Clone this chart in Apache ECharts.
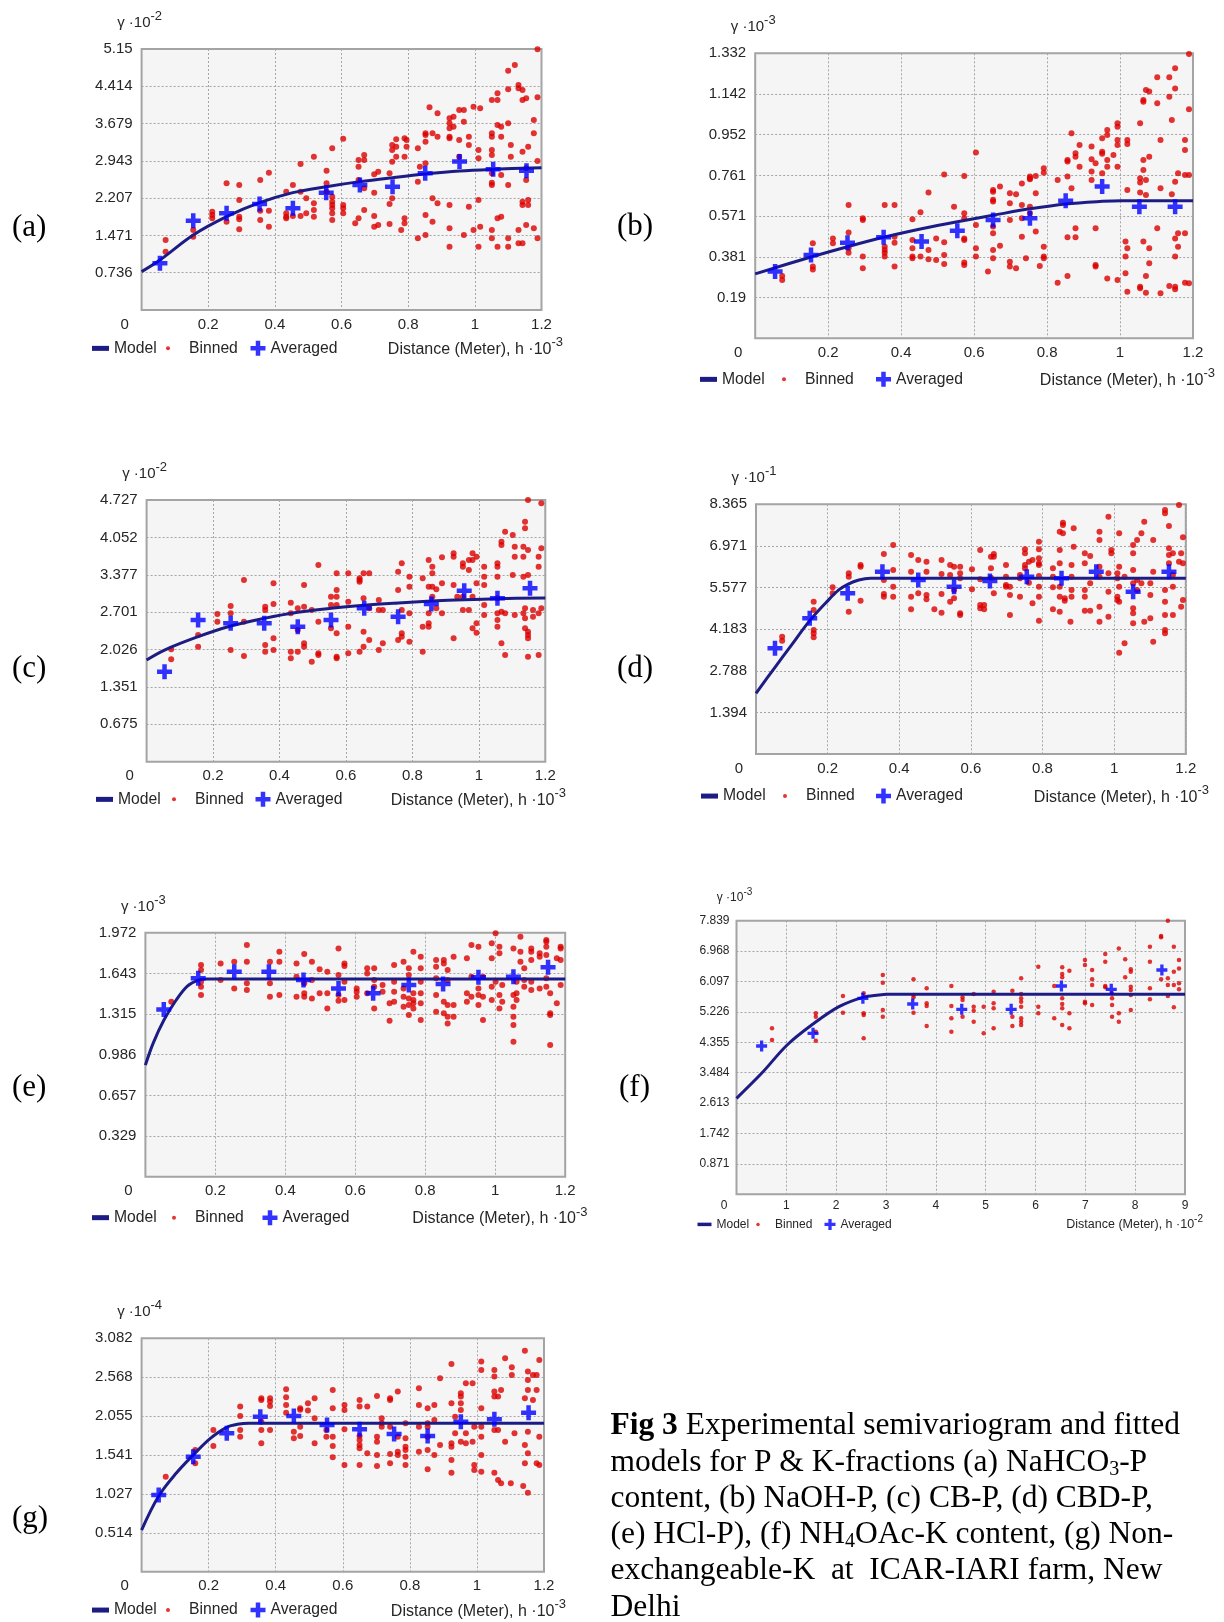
<!DOCTYPE html>
<html><head><meta charset="utf-8">
<script src="https://cdn.jsdelivr.net/npm/echarts@6/dist/echarts.min.js"></script>
<style>html,body{margin:0;padding:0;background:#fff;}#c{width:1224px;height:1622px;}</style>
</head><body><div id="c"></div>
<script>
// ---------- tick labels ----------
const xLabelsH = ['0','0.2','0.4','0.6','0.8','1','1.2'];
const xLabelsF = ['0','1','2','3','4','5','6','7','8','9'];
const yLabelsA = ['0.736','1.471','2.207','2.943','3.679','4.414','5.15'];
const yLabelsB = ['0.19','0.381','0.571','0.761','0.952','1.142','1.332'];
const yLabelsC = ['0.675','1.351','2.026','2.701','3.377','4.052','4.727'];
const yLabelsD = ['1.394','2.788','4.183','5.577','6.971','8.365'];
const yLabelsE = ['0.329','0.657','0.986','1.315','1.643','1.972'];
const yLabelsF = ['0.871','1.742','2.613','3.484','4.355','5.226','6.097','6.968','7.839'];
const yLabelsG = ['0.514','1.027','1.541','2.055','2.568','3.082'];

// ---------- model curves [h, gamma] ----------
const modelA = [[0,0.757],[0.055,0.987],[0.155,1.480],[0.255,1.842],[0.354,2.118],[0.454,2.316],[0.554,2.434],[0.655,2.533],[0.753,2.612],[0.851,2.684],[0.954,2.743],[1.055,2.776],[1.2,2.809]];
const modelB = [[0,0.301],[0.153,0.380],[0.253,0.428],[0.352,0.472],[0.456,0.512],[0.554,0.545],[0.652,0.575],[0.753,0.605],[0.851,0.628],[0.951,0.640],[1.004,0.643],[1.2,0.643]];
const modelC = [[0,1.837],[0.054,2.017],[0.155,2.258],[0.253,2.451],[0.354,2.589],[0.455,2.698],[0.555,2.770],[0.655,2.824],[0.757,2.866],[0.857,2.902],[0.956,2.927],[1.056,2.945],[1.2,2.957]];
const modelD = [[0,2.033],[0.053,2.904],[0.098,3.630],[0.150,4.467],[0.198,5.104],[0.231,5.495],[0.256,5.685],[0.287,5.830],[0.320,5.886],[1.2,5.886]];
const modelE = [[0,0.902],[0.022,1.078],[0.053,1.266],[0.088,1.428],[0.120,1.541],[0.151,1.589],[0.175,1.597],[1.2,1.597]];
const modelF = [[0,2.750],[0.504,3.466],[1.016,4.278],[1.536,4.879],[2.056,5.376],[2.536,5.643],[2.856,5.710],[3.016,5.729],[9,5.729]];
const modelG = [[0,0.550],[0.051,0.999],[0.103,1.299],[0.154,1.541],[0.205,1.761],[0.254,1.907],[0.291,1.950],[0.32,1.959],[1.2,1.959]];

// ---------- averaged points ----------
const avgA = [[0.055,0.921],[0.155,1.763],[0.255,1.908],[0.354,2.092],[0.454,2.007],[0.554,2.316],[0.655,2.467],[0.753,2.434],[0.851,2.697],[0.954,2.928],[1.055,2.776],[1.155,2.750]];
const avgB = [[0.0545,0.312],[0.153,0.389],[0.253,0.447],[0.352,0.472],[0.456,0.452],[0.554,0.503],[0.652,0.553],[0.753,0.561],[0.851,0.643],[0.951,0.709],[1.053,0.615],[1.151,0.615]];
const avgC = [[0.054,1.626],[0.155,2.559],[0.253,2.499],[0.354,2.499],[0.455,2.439],[0.555,2.559],[0.655,2.770],[0.757,2.619],[0.857,2.848],[0.956,3.089],[1.056,2.951],[1.154,3.131]];
const avgD = [[0.053,3.540],[0.150,4.545],[0.256,5.383],[0.353,6.109],[0.453,5.830],[0.553,5.606],[0.653,5.796],[0.756,5.941],[0.853,5.886],[0.950,6.109],[1.053,5.439],[1.153,6.109]];
const avgE = [[0.0525,1.352],[0.151,1.603],[0.254,1.657],[0.353,1.657],[0.452,1.589],[0.552,1.522],[0.651,1.482],[0.753,1.549],[0.851,1.557],[0.952,1.611],[1.052,1.616],[1.151,1.692]];
const avgF = [[0.504,4.249],[1.536,4.612],[2.536,5.614],[3.536,5.452],[4.52,5.299],[5.512,5.299],[6.52,5.968],[7.52,5.872],[8.536,6.426]];
const avgG = [[0.051,1.013],[0.154,1.519],[0.254,1.827],[0.354,2.047],[0.454,2.056],[0.553,1.937],[0.650,1.880],[0.753,1.818],[0.853,1.792],[0.952,1.981],[1.052,2.012],[1.154,2.100]];

// ---------- binned points, grouped by lag: [h, [gamma...]] ----------
const binnedA = [
[0.072,[1.381,1.151]],[0.155,[1.578,1.447]],[0.212,[1.940,1.874,1.809]],[0.255,[2.499,1.743]],
[0.293,[2.466,2.170,1.842,1.789,1.592]],[0.356,[2.565,1.960,1.776]],[0.382,[2.710,1.960,1.644]],
[0.434,[2.335,1.907,1.842,1.809]],[0.454,[2.466,1.855]],[0.477,[2.881,2.335,1.855]],[0.494,[2.203,1.907]],
[0.517,[3.025,2.105,1.973,1.842]],[0.555,[2.749,2.499,2.335]],[0.572,[3.190,2.236,2.138,2.072,2.006,1.907,1.776]],
[0.605,[3.381,2.072,2.006,1.907]],[0.641,[1.710]],[0.651,[2.960,2.828,2.565,1.809]],[0.668,[3.058,2.960,2.401,1.973]],
[0.698,[2.677,2.315,1.855,1.644]],[0.710,[2.729,1.677]],[0.744,[2.697,2.091,1.697]],[0.752,[3.256,3.157,2.927,2.203]],
[0.764,[3.367,3.223,3.025]],[0.779,[1.578]],[0.789,[3.387,3.025,1.809,1.710]],[0.795,[3.223,3.354]],
[0.829,[3.190,2.532,1.414]],[0.835,[2.828]],[0.852,[3.486,3.453,3.321,2.894,1.874,1.480]],[0.864,[3.999]],
[0.873,[3.486,2.203,1.743]],[0.888,[3.880,3.420,2.105]],[0.924,[3.782,3.683,3.584,3.420,3.387,2.072,1.611,1.250]],
[0.936,[3.815,3.617]],[0.953,[3.946,3.354,3.025]],[0.967,[3.946,3.716,1.480]],[0.982,[3.420,3.256,2.039]],
[0.996,[4.012,1.578]],[1.011,[3.157,2.993,2.170,1.250]],[1.016,[3.979,1.644]],
[1.051,[4.144,3.486,3.420,3.157,3.058,2.697,2.512,2.466,1.578,1.414]],[1.068,[4.275,4.144,3.650,1.809,1.250]],
[1.079,[3.617,3.420,2.664,1.842]],[1.100,[4.722,4.354,3.683,2.466,1.414,1.250]],[1.108,[3.256,3.025]],
[1.120,[4.834]],[1.131,[4.440,4.374,1.578,1.315]],[1.143,[4.341,4.144,3.124,2.138,2.072,1.315]],
[1.154,[4.176,2.795,2.565,1.677]],[1.160,[3.223,2.170,2.072]],[1.177,[3.749,3.486,1.611]],[1.188,[5.143,4.196,2.940,1.414]]
];
const binnedB = [
[0.074,[0.291,0.273]],[0.158,[0.444,0.335,0.322]],[0.213,[0.467,0.444]],[0.256,[0.623,0.494,0.421,0.400]],
[0.295,[0.561,0.553,0.382,0.327]],[0.355,[0.623,0.428,0.413,0.400,0.382]],[0.382,[0.623,0.475,0.447,0.335]],
[0.431,[0.556,0.460,0.421,0.382,0.374]],[0.453,[0.589,0.382]],[0.475,[0.681,0.413,0.369]],[0.496,[0.467,0.366]],
[0.518,[0.766,0.449,0.389,0.347]],[0.545,[0.615]],[0.573,[0.759,0.584,0.561,0.467,0.460,0.354,0.343]],
[0.605,[0.868,0.530,0.421,0.382]],[0.638,[0.312]],[0.652,[0.693,0.685,0.647,0.639,0.522,0.491,0.413,0.374]],
[0.671,[0.709,0.433]],[0.698,[0.678,0.631,0.553,0.358,0.335]],[0.715,[0.673,0.327]],[0.731,[0.724,0.623,0.561,0.475]],
[0.742,[0.374]],[0.753,[0.756,0.748,0.743,0.615,0.584]],[0.769,[0.759,0.678,0.499]],[0.780,[0.338]],
[0.791,[0.795,0.774,0.428,0.382,0.374]],[0.829,[0.740,0.260]],[0.856,[0.833,0.826,0.756,0.472,0.291]],
[0.867,[0.958,0.701]],[0.878,[0.865,0.849,0.514,0.472]],[0.889,[0.904,0.802]],[0.922,[0.896,0.837,0.779,0.740]],
[0.933,[0.818,0.514,0.343,0.335]],[0.951,[0.935,0.872,0.862,0.771]],[0.965,[0.974,0.950,0.833,0.802,0.280]],
[0.982,[0.857]],[0.993,[1.005,0.989,0.927,0.904,0.802,0.273]],[1.015,[0.452,0.382,0.304]],
[1.020,[0.927,0.908,0.693,0.421,0.218]],[1.055,[1.005,0.748,0.728,0.681,0.241,0.234]],
[1.064,[1.114,1.106,0.833,0.787,0.452]],[1.071,[1.161,0.740,0.670,0.291,0.213]],[1.080,[1.153,0.849,0.421,0.351]],
[1.102,[1.220,1.098,0.514]],[1.111,[0.927,0.701,0.210]],[1.135,[1.220,1.129,0.245]],[1.142,[1.020,0.673]],
[1.151,[1.262,1.168,0.732,0.467,0.382,0.241,0.229]],[1.159,[0.771,0.491,0.428]],
[1.178,[0.927,0.880,0.763,0.491,0.260]],[1.189,[1.329,1.070,0.763,0.257]]
];
const binnedC = [
[0.074,[2.029,1.849]],[0.155,[2.288,2.077]],[0.213,[2.668,2.529]],[0.253,[2.812,2.680,2.017]],
[0.293,[3.282,2.529,1.909]],[0.357,[2.800,2.740,2.108,1.987]],[0.382,[3.222,2.848,2.228,2.017]],
[0.434,[2.872,2.680,1.987,1.867]],[0.455,[2.770,2.379,1.987]],[0.474,[3.191,2.800,2.138,2.077]],
[0.497,[2.740,1.807]],[0.517,[3.553,2.529,1.957,1.927]],[0.555,[2.981,2.830,2.409]],
[0.572,[3.402,3.101,2.981,2.830,2.318,1.897,1.867]],[0.607,[3.402,2.890,2.439,1.957]],
[0.641,[3.312,3.282,3.252,1.987]],[0.653,[3.402,2.951,2.348,2.077]],[0.670,[3.402,2.770,2.198]],
[0.699,[2.921,2.740,2.017]],[0.711,[2.138,2.740]],[0.757,[3.432,3.101,2.198]],[0.768,[3.583,2.740,2.318,2.258]],
[0.791,[3.342,3.161,2.680,2.168]],[0.831,[3.312,2.439,1.987]],[0.849,[3.643,3.161,2.680,2.499,2.439]],
[0.860,[3.523,3.402,3.161,2.981]],[0.872,[3.113,2.770]],[0.889,[3.691,3.222,2.680]],
[0.924,[3.764,3.703,3.191,2.228]],[0.935,[2.981]],[0.952,[3.583,3.523,2.981,2.740]],[0.970,[3.643,3.462,2.740]],
[0.981,[3.643,3.764,2.981,2.409]],[0.993,[3.703,3.222,2.499,2.330]],[1.016,[3.523,3.342,3.191,2.830,2.650]],
[1.056,[3.583,3.523,3.342,2.951,2.680,2.559,2.439]],[1.068,[3.974,3.914,2.710,2.138]],[1.079,[4.155,2.680,1.927]],
[1.102,[4.095,3.372]],[1.108,[3.884,3.703,2.650]],[1.134,[3.884,3.703,3.342,2.680]],
[1.139,[4.336,4.215,2.770,2.589,2.409]],[1.148,[4.727,3.824,3.372,2.348,2.288,2.228,1.897]],
[1.163,[2.740,2.619]],[1.180,[3.703,3.523,2.680,1.927]],[1.188,[4.667,3.854,2.770]]
];
const binnedD = [
[0.073,[3.931,3.797]],[0.161,[5.104,4.825,4.154,4.043,3.909]],[0.214,[5.584,5.383]],[0.259,[6.053,5.941,4.769]],
[0.292,[6.332,6.276,5.137]],[0.357,[6.701,5.830,5.361,5.271]],[0.383,[7.002,6.165,5.606,5.271]],
[0.433,[6.667,6.109,5.271,4.847]],[0.453,[6.500,5.383]],[0.476,[6.444,6.109,5.327,5.182]],[0.498,[4.847]],
[0.518,[6.500,6.031,5.361,4.735]],[0.542,[6.332,5.997,5.104]],[0.553,[6.276,5.495,5.215]],
[0.570,[6.276,6.053,5.886,4.713,4.657]],[0.603,[6.187,5.517]],[0.626,[6.835,5.852,4.992,4.880]],
[0.637,[4.992,4.847]],[0.656,[6.611,6.221,5.908]],[0.664,[6.701,6.611,5.383]],[0.698,[6.332,5.941,5.662,5.606]],
[0.709,[5.606,5.327,4.657]],[0.737,[5.997,5.886,5.271]],[0.751,[6.857,6.723,6.332,6.221]],[0.762,[6.444,5.740]],
[0.772,[6.500,5.048]],[0.790,[7.114,6.857,6.556,6.388,6.332,5.964,5.606,5.271,4.467]],
[0.829,[6.221,5.941,5.584,4.847]],[0.848,[7.449,6.835,6.388,5.606,5.271,4.769]],[0.857,[7.751,7.672,7.393]],
[0.862,[5.215,5.137]],[0.878,[4.434]],[0.881,[6.332,5.941,5.495,5.271]],[0.887,[7.561,6.947]],
[0.918,[6.723,6.388,5.495,5.271,4.802]],[0.933,[6.634,5.718,4.802]],[0.959,[7.449,7.170,6.276,5.941,4.936,4.434]],
[0.984,[7.952,6.053,5.439,4.601]],[0.992,[6.835,6.723]],[1.009,[6.053,5.886,5.271,5.160]],
[1.014,[7.393,6.276,5.606,5.104,3.395]],[1.029,[3.708,5.941]],[1.053,[7.002,6.723,6.165,5.718,4.880,4.713,4.378]],
[1.064,[7.170,5.495,5.830]],[1.076,[7.393,5.718]],[1.084,[7.784,4.434]],[1.101,[5.718,5.327,4.545]],
[1.109,[7.170,6.109,3.764]],[1.142,[8.175,8.063,5.495,5.104,4.657,4.154,4.043]],[1.153,[7.639,6.891,6.667,6.388]],
[1.164,[6.723,5.997,4.657,5.606]],[1.181,[8.343,6.444]],[1.187,[6.723,4.936]],[1.192,[7.259,6.388,5.160]]
];
const binnedE = [
[0.074,[1.414]],[0.159,[1.711,1.670,1.576,1.536,1.468]],[0.215,[1.724,1.589]],[0.254,[1.738,1.522]],
[0.290,[1.872,1.738,1.563,1.509]],[0.356,[1.738,1.563,1.455]],[0.383,[1.818,1.738,1.468]],
[0.432,[1.724,1.616,1.455]],[0.454,[1.800,1.563,1.482,1.455]],[0.476,[1.738,1.589,1.441]],[0.498,[1.676,1.482]],
[0.520,[1.657,1.482,1.360]],[0.552,[1.845,1.630,1.468,1.422]],[0.569,[1.724,1.703,1.576,1.428]],
[0.604,[1.522,1.495,1.455]],[0.634,[1.684,1.643,1.482]],[0.654,[1.684,1.589,1.536,1.360]],[0.678,[1.549,1.495]],
[0.698,[1.401,1.261]],[0.711,[1.711,1.576,1.495,1.414]],[0.738,[1.738,1.522,1.455,1.374]],
[0.753,[1.684,1.630,1.441,1.387,1.307]],[0.766,[1.818,1.482,1.428,1.401,1.360]],
[0.787,[1.778,1.684,1.576,1.482,1.401,1.266]],[0.831,[1.751,1.697,1.603,1.468,1.334]],
[0.853,[1.751,1.724,1.414,1.320]],[0.864,[1.670,1.589,1.387,1.293,1.239]],[0.881,[1.778,1.387,1.293]],
[0.919,[1.765,1.482,1.414]],[0.932,[1.872,1.616,1.455]],[0.952,[1.859,1.522,1.468,1.387]],
[0.965,[1.616,1.455,1.266]],[0.990,[1.886,1.765,1.536,1.428]],[1.001,[1.967,1.576]],
[1.012,[1.859,1.805,1.468,1.360]],[1.020,[1.549,1.414]],[1.052,[1.845,1.468,1.374,1.293,1.226,1.091]],
[1.061,[1.576,1.482,1.428]],[1.072,[1.940,1.818,1.738]],[1.083,[1.684,1.589,1.536]],
[1.103,[1.845,1.818,1.751,1.576,1.509]],[1.127,[1.805,1.778,1.522]],[1.146,[1.913,1.899,1.859,1.792,1.603,1.536]],
[1.157,[1.482,1.320,1.307,1.064]],[1.176,[1.765,1.401]],[1.187,[1.859,1.845,1.751,1.549]]
];
const binnedF = [
[0.712,[4.755,4.421]],[1.592,[5.185,5.089,4.659,4.402]],[2.136,[5.681,5.204]],[2.552,[5.757,5.185,5.137,4.468]],
[2.936,[6.283,6.063,5.280,5.089]],[3.552,[6.158,5.710,5.643,5.204]],[3.816,[5.901,5.471,5.395,4.822]],
[4.312,[5.968,5.395,5.041,4.659]],[4.536,[5.643,5.567,5.089]],[4.76,[5.738,5.376,5.261,4.946]],
[4.96,[5.376,4.612]],[5.16,[5.805,5.471,5.328,4.755]],[5.536,[5.834,5.089,4.822]],
[5.712,[6.187,5.738,5.614,5.519,5.376,5.041,4.946,4.850]],[6.056,[6.521,5.376,5.185]],[6.376,[5.968,5.041]],
[6.536,[6.502,6.311,6.216,5.614,5.452,5.328,4.850]],[6.68,[6.407,5.185,4.755]],[6.992,[6.712,6.569,5.519,5.471]],
[7.136,[6.426,6.158,5.996,5.423]],[7.4,[6.884,6.664,5.968,5.929]],[7.536,[5.757,5.614,5.423,5.089]],
[7.672,[7.046,5.185,4.946]],[7.8,[6.731,6.216]],[7.912,[6.445,6.378,5.948,5.853,5.710,5.280]],
[8.296,[7.094,6.664,5.901,5.586]],[8.52,[7.400,7.362,6.158]],[8.656,[7.839,6.187,5.996,5.681]],
[8.776,[7.094,6.378,5.996,5.356]],[8.88,[6.712,6.473,6.044,5.872]]
];
const binnedG = [
[0.072,[1.255]],[0.160,[1.607,1.431]],[0.214,[1.871,1.660]],[0.294,[2.180,2.056,1.871,1.783]],
[0.357,[2.290,2.268,1.981,1.871,1.695]],[0.383,[2.290,2.246,2.188,1.871]],[0.431,[2.408,2.303,2.202,2.100]],
[0.454,[1.849,1.761]],[0.473,[2.157,2.140,1.915,1.792]],[0.496,[2.224,2.127]],[0.516,[2.290,2.025,1.695]],
[0.551,[1.871,1.783]],[0.570,[2.400,2.157,1.783,1.660,1.510]],[0.605,[2.202,2.135,1.880,1.409]],
[0.650,[2.268,2.180,1.792,1.739,1.673,1.629,1.409]],[0.673,[2.180,1.563]],[0.702,[2.320,1.783,1.717,1.541,1.396]],
[0.716,[2.025,1.959,1.915]],[0.741,[2.290,2.268,1.915,1.554,1.431]],[0.764,[2.378,1.783,1.585,1.541]],
[0.787,[1.959,1.761,1.651,1.607,1.519,1.409]],[0.827,[2.422,2.202,1.915,1.585]],
[0.853,[2.157,1.959,1.915,1.783,1.607,1.352]],[0.873,[2.202,2.003,1.541]],[0.890,[2.554,1.673]],
[0.924,[2.743,2.224,1.695,1.651,1.475,1.308]],[0.935,[2.047,1.827]],[0.952,[2.356,2.312,2.224,2.135,1.717]],
[0.967,[2.488,1.827,1.695]],[0.987,[2.488,1.717]],[0.992,[1.915,1.409,1.343]],
[1.013,[2.774,2.664,2.157,1.915,1.783,1.541,1.321]],[1.052,[2.664,2.576,2.378,2.312,1.871,1.308]],
[1.063,[2.312,1.871,1.211]],[1.072,[2.400,1.167]],[1.084,[2.818,1.717]],[1.101,[1.167]],[1.104,[2.699,2.598]],
[1.112,[1.827]],[1.138,[1.132]],[1.143,[2.919,2.290,1.673,1.431]],[1.152,[2.642,2.532,2.400,1.849,1.563,1.044]],
[1.167,[2.598,2.268]],[1.178,[2.598,2.400,1.431]],[1.186,[2.796,1.783,1.409]]
];

const charts = [
  {binned: binnedA, avg: avgA, model: modelA, yLabels: yLabelsA, xLabels: xLabelsH, yExp: '-2', xExp: '-3', tag: '(a)'},
  {binned: binnedB, avg: avgB, model: modelB, yLabels: yLabelsB, xLabels: xLabelsH, yExp: '-3', xExp: '-3', tag: '(b)'},
  {binned: binnedC, avg: avgC, model: modelC, yLabels: yLabelsC, xLabels: xLabelsH, yExp: '-2', xExp: '-3', tag: '(c)'},
  {binned: binnedD, avg: avgD, model: modelD, yLabels: yLabelsD, xLabels: xLabelsH, yExp: '-1', xExp: '-3', tag: '(d)'},
  {binned: binnedE, avg: avgE, model: modelE, yLabels: yLabelsE, xLabels: xLabelsH, yExp: '-3', xExp: '-3', tag: '(e)'},
  {binned: binnedF, avg: avgF, model: modelF, yLabels: yLabelsF, xLabels: xLabelsF, yExp: '-3', xExp: '-2', tag: '(f)'},
  {binned: binnedG, avg: avgG, model: modelG, yLabels: yLabelsG, xLabels: xLabelsH, yExp: '-4', xExp: '-3', tag: '(g)'}
];

// ---------- layout (pixels) ----------
const big = {font: 15, legFont: 15.7, nameFont: 16, xMargin: 7, yMargin: 9, zeroShift: 17, dot: 6, cross: 15, yNameGap: 26,
  modelIcon: [17, 5], dotIcon: 4, dotTextGap: 21};
const small = {font: 12, legFont: 12, nameFont: 12.5, xMargin: 5, yMargin: 7, zeroShift: 12.5, dot: 4.5, cross: 11, yNameGap: 23,
  modelIcon: [14, 3.5], dotIcon: 3.5, dotTextGap: 17};
const layouts = [
  Object.assign({grid: [141.6, 49, 541.5, 310], tag: [12, 229], legY: 349, legX: [92, 168, 250.5], nameEnd: 563}, big),
  Object.assign({grid: [755.2, 53.3, 1193, 338.3], tag: [617, 228], legY: 380, legX: [700, 784, 876], nameEnd: 1215}, big),
  Object.assign({grid: [146.6, 500, 545.3, 761.7], tag: [12, 670], legY: 800, legX: [96, 174, 255.5], nameEnd: 566}, big),
  Object.assign({grid: [756, 504.3, 1185.8, 754], tag: [617, 670], legY: 796.7, legX: [701, 785, 876], nameEnd: 1209}, big),
  Object.assign({grid: [145.4, 932.7, 565.2, 1176.7], tag: [12, 1089], legY: 1218.3, legX: [92, 174, 262.5], nameEnd: 587.5}, big),
  Object.assign({grid: [736.5, 920.7, 1185, 1194.3], tag: [619, 1089], legY: 1225, legX: [697.5, 758, 824.5], nameEnd: 1203}, small),
  Object.assign({grid: [141.6, 1338.3, 544, 1571.7], tag: [12, 1520], legY: 1610.7, legX: [92, 168, 250.5], nameEnd: 566}, big)
];

const FONT = 'Liberation Sans';
const SERIF = 'Liberation Serif';
const TXT = '#262626';
const RED = '#dc0000';
const NAVY = '#1c1c84';
const BLUE = '#0000ff';
const GRIDC = '#a6a6a6';
const PLUS = 'path://M3.5,0H6.5V3.5H10V6.5H6.5V10H3.5V6.5H0V3.5H3.5Z';

const expand = cols => { const out = []; cols.forEach(([h, ys]) => ys.forEach(y => out.push([h, y]))); return out; };

const option = {animation: false, backgroundColor: '#fff', grid: [], xAxis: [], yAxis: [], series: [], legend: [], title: []};

charts.forEach((c, i) => {
  const L = layouts[i];
  const fs = L.font;
  const [gl, gt, gr, gb] = L.grid;
  const xMax = parseFloat(c.xLabels[c.xLabels.length - 1]);
  const xStep = parseFloat(c.xLabels[1]);
  const yMax = parseFloat(c.yLabels[c.yLabels.length - 1]);
  const yStep = yMax / c.yLabels.length;
  const nf = L.nameFont;
  const supStyle = {fontFamily: FONT, fontSize: Math.round(nf * 0.82), color: TXT, padding: [0, 0, Math.round(nf * 0.85), 0]};

  option.grid.push({left: gl, top: gt, width: gr - gl, height: gb - gt, show: true, backgroundColor: '#f5f5f5',
    borderColor: '#a3a3a3', borderWidth: 2, containLabel: false, outerBoundsMode: 'none'});

  option.xAxis.push({type: 'value', gridIndex: i, min: 0, max: xMax, interval: xStep,
    axisLine: {show: false}, axisTick: {show: false},
    splitLine: {show: true, lineStyle: {type: [2, 2], color: GRIDC, width: 1}},
    axisLabel: {margin: L.xMargin, fontFamily: FONT, fontSize: fs, color: TXT,
      formatter: v => { const k = Math.round(v / xStep); return k === 0 ? '{z|0}' : (c.xLabels[k] || ''); },
      rich: {z: {fontFamily: FONT, fontSize: fs, color: TXT, padding: [0, L.zeroShift * 2, 0, 0]}}},
    name: 'Distance (Meter), h ·10{sup|' + c.xExp + '}', nameLocation: 'end', nameGap: L.nameEnd - gr,
    nameTextStyle: {fontFamily: FONT, fontSize: nf, color: TXT, align: 'right', verticalAlign: 'top',
      padding: [L.legY - gb - nf * 0.55 - 4, 0, 0, 0], rich: {sup: supStyle}}
  });

  option.yAxis.push({type: 'value', gridIndex: i, min: 0, max: yMax, interval: yStep,
    axisLine: {show: false}, axisTick: {show: false},
    splitLine: {show: true, lineStyle: {type: [2, 2], color: GRIDC, width: 1}},
    axisLabel: {margin: L.yMargin, fontFamily: FONT, fontSize: fs, color: TXT,
      formatter: v => { const k = Math.round(v / yStep); return k <= 0 ? '' : (c.yLabels[k - 1] || ''); }},
    name: 'γ ·10{sup|' + c.yExp + '}', nameLocation: 'end', nameGap: L.yNameGap,
    nameTextStyle: {fontFamily: FONT, fontSize: fs, color: TXT, align: 'center', verticalAlign: 'middle',
      padding: [0, 4, 0, 0], rich: {sup: {fontFamily: FONT, fontSize: Math.round(fs * 0.85), color: TXT, padding: [0, 0, Math.round(fs * 0.85), 0]}}}
  });

  option.series.push({type: 'scatter', name: 'Binned', xAxisIndex: i, yAxisIndex: i, data: expand(c.binned),
    symbol: 'circle', symbolSize: L.dot, itemStyle: {color: RED}, z: 2, silent: true});
  option.series.push({type: 'line', name: 'Model', xAxisIndex: i, yAxisIndex: i, data: c.model,
    smooth: 0.35, showSymbol: false, symbol: 'none', color: NAVY,
    lineStyle: {color: NAVY, width: 3}, itemStyle: {color: NAVY}, z: 3, silent: true});
  option.series.push({type: 'scatter', name: 'Averaged', xAxisIndex: i, yAxisIndex: i, data: c.avg,
    symbol: PLUS, symbolSize: L.cross, itemStyle: {color: BLUE}, z: 4, silent: true});

  const lf = L.legFont;
  const ts = {fontFamily: FONT, fontSize: lf, color: TXT};
  const legTop = L.legY - lf * 0.55;
  option.legend.push({left: L.legX[0], top: legTop, padding: 0, selectedMode: false, itemWidth: L.modelIcon[0], itemHeight: L.modelIcon[1],
    data: [{name: 'Model', icon: 'rect', itemStyle: {color: NAVY}}], textStyle: ts});
  option.legend.push({left: L.legX[1] - L.dotIcon / 2, top: legTop, padding: 0, selectedMode: false, itemWidth: L.dotIcon, itemHeight: L.dotIcon,
    data: [{name: 'Binned', icon: 'circle', itemStyle: {color: RED}}],
    textStyle: Object.assign({padding: [0, 0, 0, L.dotTextGap - L.dotIcon / 2 - 5]}, ts)});
  option.legend.push({left: L.legX[2], top: legTop, padding: 0, selectedMode: false, itemWidth: L.cross, itemHeight: L.cross,
    data: [{name: 'Averaged', icon: PLUS, itemStyle: {color: BLUE}}], textStyle: ts});

  option.title.push({text: c.tag, left: L.tag[0], top: L.tag[1] - 17, padding: 0,
    textStyle: {fontFamily: SERIF, fontSize: 31, fontWeight: 'normal', color: '#000'}});
});

const capRich = {
  b: {fontFamily: SERIF, fontSize: 31.5, fontWeight: 'bold', color: '#000', lineHeight: 36.3},
  sub: {fontFamily: SERIF, fontSize: 20, color: '#000', lineHeight: 36.3, padding: [14, 0, 0, 0]}
};
option.title.push({
  text: '{b|Fig 3} Experimental semivariogram and fitted\nmodels for P & K-fractions (a) NaHCO{sub|3}-P\ncontent, (b) NaOH-P, (c) CB-P, (d) CBD-P,\n(e) HCl-P), (f) NH{sub|4}OAc-K content, (g) Non-\nexchangeable-K  at  ICAR-IARI farm, New\nDelhi',
  left: 610.5, top: 1426 - 18.15, padding: 0,
  textStyle: {fontFamily: SERIF, fontSize: 31.5, fontWeight: 'normal', color: '#000', lineHeight: 36.3, rich: capRich}
});

const chart = echarts.init(document.getElementById('c'), null, {renderer: 'canvas'});
chart.setOption(option);
</script></body></html>
